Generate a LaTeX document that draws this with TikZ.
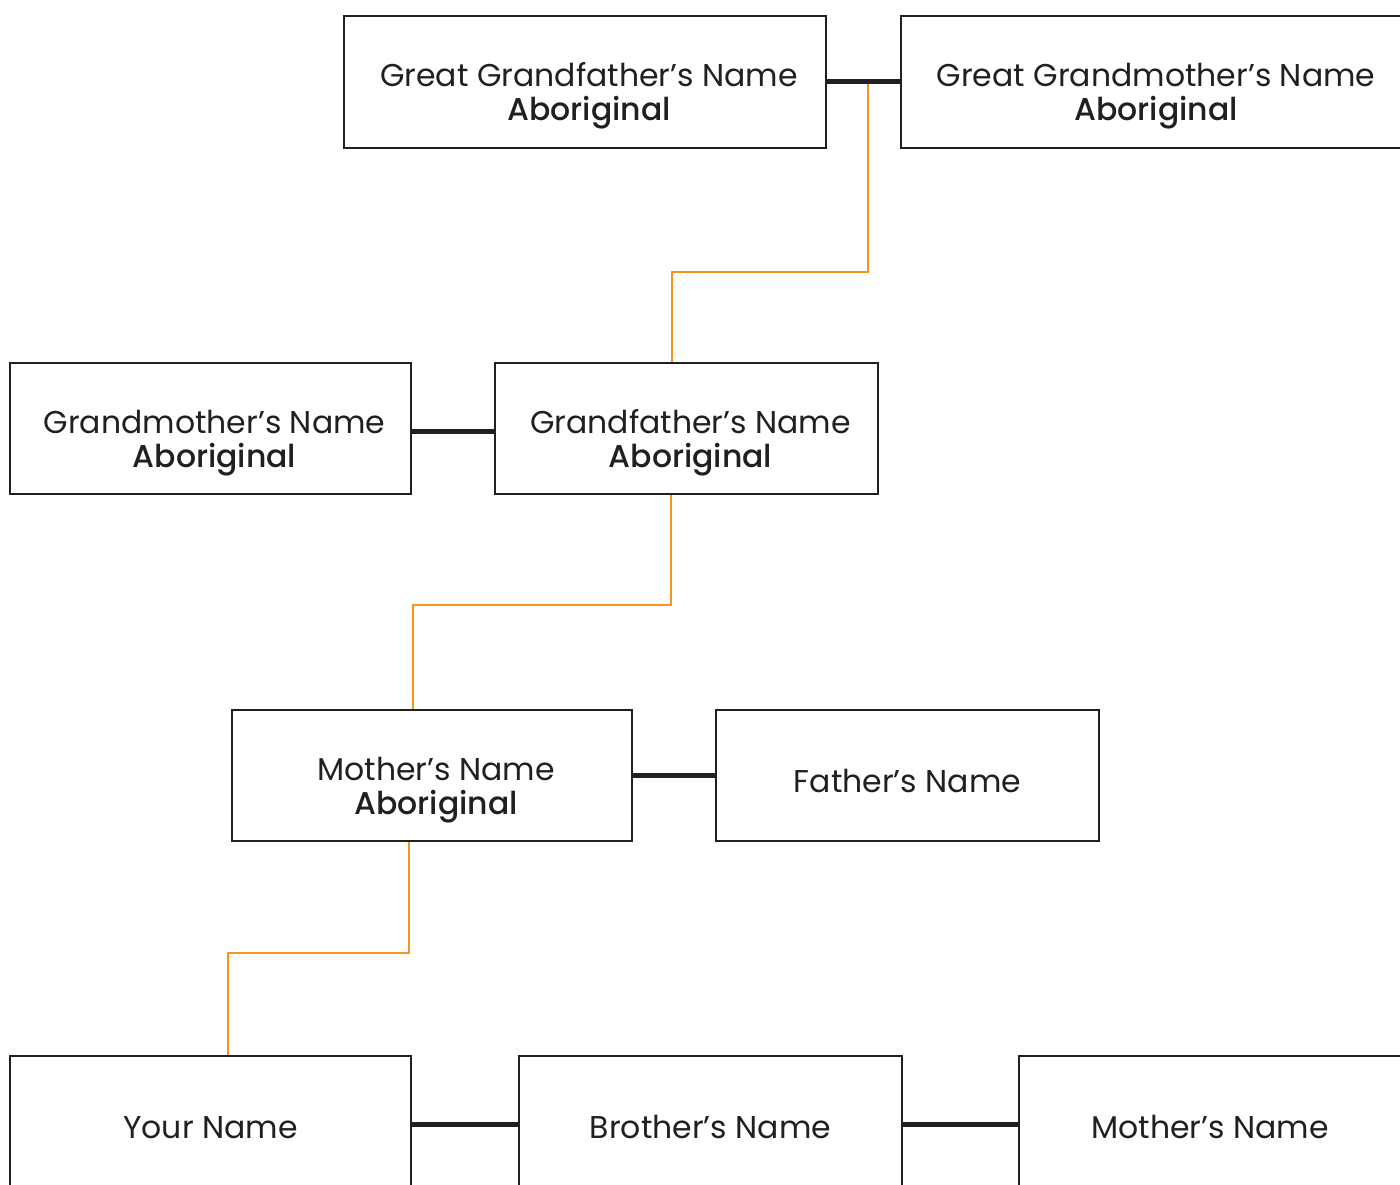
\documentclass[tikz,border=0pt]{standalone}
\usepackage{fontspec}
\setmainfont{Poppins}[BoldFont={Poppins Medium}]
\usetikzlibrary{calc}
\definecolor{ink}{HTML}{231F20}
\definecolor{kinorange}{HTML}{F7941D}
\begin{document}
\begin{tikzpicture}[x=1pt,y=-1pt,
  personbox/.style={draw=ink,line width=2.5pt,inner sep=0pt,fill=white},
  couple/.style={draw=ink,line width=5pt},
  descent/.style={draw=kinorange,line width=2pt,line join=miter},
  nametext/.style={anchor=base,inner sep=0pt,text=ink,font=\fontsize{31.5pt}{36pt}\selectfont},
  origintext/.style={anchor=base,inner sep=0pt,text=ink,font=\fontsize{31.5pt}{36pt}\selectfont\bfseries}]
\useasboundingbox (0,0) rectangle (1400,1185);
\clip (0,0) rectangle (1400,1185);
\fill[white] (0,0) rectangle (1400,1185);
% boxes
\node[personbox,minimum width=482pt,minimum height=132pt] (ggf) at (585,82) {};
\node[personbox,minimum width=510pt,minimum height=132pt] (ggm) at (1156,82) {};
\node[personbox,minimum width=401pt,minimum height=131pt] (gm) at (210.5,428.5) {};
\node[personbox,minimum width=383pt,minimum height=131pt] (gf) at (686.5,428.5) {};
\node[personbox,minimum width=400pt,minimum height=131pt] (mo) at (432,775.5) {};
\node[personbox,minimum width=383pt,minimum height=131pt] (fa) at (907.5,775.5) {};
\node[personbox,minimum width=401pt,minimum height=132pt] (you) at (210.5,1122) {};
\node[personbox,minimum width=383pt,minimum height=132pt] (br) at (710.5,1122) {};
\node[personbox,minimum width=382pt,minimum height=132pt] (mo2) at (1210,1122) {};
% couple / sibling links
\draw[couple] (ggf) -- (ggm);
\draw[couple] (gm.east |- 0,431) coordinate (gml) -- (gf.west |- 0,431) coordinate (gfl);
\draw[couple] (mo) -- (fa);
\draw[couple] (you.east |- 0,1124) coordinate (yl) -- (br.west |- 0,1124) coordinate (bl);
\draw[couple] (br.east |- 0,1124) coordinate (bl2) -- (mo2.west |- 0,1124) coordinate (ml2);
% descent lines
\draw[descent] (868,84) -- (868,272) -- (672,272) -- (672,0 |- gf.north);
\draw[descent] (671,0 |- gf.south) -- (671,605) -- (413,605) -- (413,0 |- mo.north);
\draw[descent] (409,0 |- mo.south) -- (409,953) -- (228,953) -- (228,0 |- you.north);
% texts
\node[nametext] (ggf1) at ([xshift=4pt,yshift=-5pt]ggf.center) {Great Grandfather’s Name};
\node[origintext] (ggf2) at ([xshift=4pt,yshift=-39pt]ggf.center) {Aboriginal};
\node[nametext] (ggm1) at ([yshift=-5pt]ggm.center) {Great Grandmother’s Name};
\node[origintext] (ggm2) at ([yshift=-39pt]ggm.center) {Aboriginal};
\node[nametext] (gm1) at ([xshift=4pt,yshift=-5pt]gm.center) {Grandmother’s Name};
\node[origintext] (gm2) at ([xshift=4pt,yshift=-39pt]gm.center) {Aboriginal};
\node[nametext] (gf1) at ([xshift=4pt,yshift=-5pt]gf.center) {Grandfather’s Name};
\node[origintext] (gf2) at ([xshift=4pt,yshift=-39pt]gf.center) {Aboriginal};
\node[nametext] (mo1) at ([xshift=4pt,yshift=-5pt]mo.center) {Mother’s Name};
\node[origintext] (mo2t) at ([xshift=4pt,yshift=-39pt]mo.center) {Aboriginal};
\node[nametext] (fa1) at ([yshift=-16.5pt]fa.center) {Father’s Name};
\node[nametext] (you1) at ([yshift=-16.5pt]you.center) {Your Name};
\node[nametext] (br1) at ([yshift=-16.5pt]br.center) {Brother’s Name};
\node[nametext] (mo21) at ([yshift=-16.5pt]mo2.center) {Mother’s Name};
\end{tikzpicture}
\end{document}
